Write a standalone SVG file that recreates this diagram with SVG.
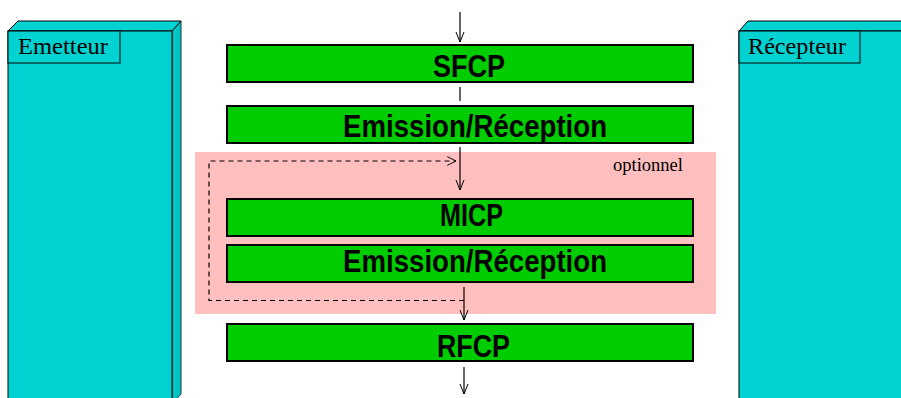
<svg xmlns="http://www.w3.org/2000/svg" width="901" height="398" viewBox="0 0 901 398">
<defs>
<style>
.cy{fill:#00d2d2;stroke:#000;stroke-width:1;stroke-linejoin:miter}
.cyd{fill:#00c4c4;stroke:#1a3a3a;stroke-width:1}
.gr{fill:#00cd00;stroke:#000;stroke-width:2}
.lbl{font-family:"Liberation Serif","Times New Roman",serif;font-size:24px;fill:#000}
.big{font-family:"Liberation Sans Narrow","Liberation Sans",Arial,sans-serif;font-weight:bold;font-size:32px;fill:#000}
.ln{stroke:#000;stroke-width:1.2;fill:none}
.dash{stroke:#000;stroke-width:1.2;fill:none;stroke-dasharray:5,4}
</style>
<marker id="ah" viewBox="0 0 10 10" refX="10" refY="5" markerWidth="10" markerHeight="10" markerUnits="userSpaceOnUse" orient="auto">
<path d="M0,1 L10,5 L0,9" fill="none" stroke="#000" stroke-width="1"/>
</marker>
<marker id="ahv" viewBox="0 0 10 16" refX="10" refY="8" markerWidth="10" markerHeight="14" markerUnits="userSpaceOnUse" orient="auto">
<path d="M0,3 L10,8 L0,13" fill="none" stroke="#000" stroke-width="1.1"/>
</marker>
</defs>
<rect width="901" height="398" fill="#fff"/>
<g id="emetteur">
<polygon class="cyd" points="172,31 181,21 181,394 172,404"/>
<polygon class="cy" points="8,31 18,21 181,21 172,31"/>
<rect class="cy" x="8" y="31" width="164" height="380"/>
<rect class="cy" x="8" y="31" width="112" height="32"/>
<text class="lbl" x="18" y="54" textLength="90" lengthAdjust="spacingAndGlyphs">Emetteur</text>
</g>
<g id="recepteur">
<polygon class="cy" points="739,31 748,21 912,21 903,31"/>
<rect class="cy" x="739" y="31" width="170" height="380"/>
<rect class="cy" x="739" y="31" width="121" height="32"/>
<text class="lbl" x="748" y="54" textLength="98" lengthAdjust="spacingAndGlyphs">Récepteur</text>
</g>
<g id="optionnel">
<rect x="195" y="152" width="521" height="162" fill="#ffbfbf"/>
<text x="613" y="170.5" font-family="Liberation Serif,'Times New Roman',serif" font-size="18" fill="#000" textLength="70" lengthAdjust="spacingAndGlyphs">optionnel</text>
</g>
<g id="sfcp">
<rect class="gr" x="227" y="45" width="466" height="37"/>
<text class="big" x="433" y="77" textLength="72" lengthAdjust="spacingAndGlyphs">SFCP</text>
</g>
<g id="emission1">
<rect class="gr" x="227" y="106" width="466" height="37"/>
<text class="big" x="343" y="137" textLength="264" lengthAdjust="spacingAndGlyphs">Emission/Réception</text>
</g>
<g id="micp">
<rect class="gr" x="227" y="199" width="466" height="37"/>
<text class="big" x="440" y="226" textLength="63" lengthAdjust="spacingAndGlyphs">MICP</text>
</g>
<g id="emission2">
<rect class="gr" x="227" y="245" width="466" height="37"/>
<text class="big" x="343" y="272" textLength="264" lengthAdjust="spacingAndGlyphs">Emission/Réception</text>
</g>
<g id="rfcp">
<rect class="gr" x="227" y="324" width="466" height="37"/>
<text class="big" x="437" y="357" textLength="73" lengthAdjust="spacingAndGlyphs">RFCP</text>
</g>
<g id="connectors">
<line class="ln" x1="460" y1="12" x2="460" y2="42" marker-end="url(#ah)"/>
<line class="ln" x1="460" y1="87" x2="460" y2="101"/>
<line class="ln" x1="460" y1="147" x2="460" y2="190" marker-end="url(#ah)"/>
<polyline class="dash" points="464,300.5 209,300.5 209,161 456,161" marker-end="url(#ahv)"/>
<line class="ln" x1="464" y1="287" x2="464" y2="320" marker-end="url(#ah)"/>
<line class="ln" x1="464" y1="367" x2="464" y2="394" marker-end="url(#ah)"/>
</g>
</svg>
